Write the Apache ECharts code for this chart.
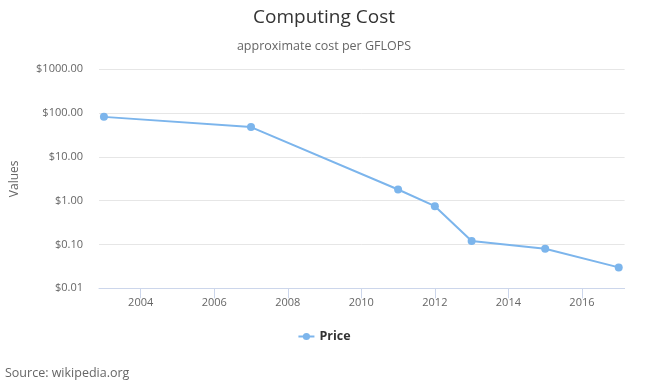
<!DOCTYPE html>
<html>
<head>
<meta charset="utf-8">
<script src="https://cdn.jsdelivr.net/npm/echarts@6/dist/echarts.min.js"></script>
<style>html,body{margin:0;padding:0;background:#fff}#c{width:648px;height:382px}</style>
</head>
<body>
<div id="c"></div>
<script>
const years = [2003, 2007, 2011, 2012, 2013, 2015, 2017];
const prices = [82, 48, 1.8, 0.75, 0.12, 0.08, 0.03];
const xTicks = [2004, 2006, 2008, 2010, 2012, 2014, 2016];
const yTicks = [0.01, 0.1, 1, 10, 100, 1000];

const FONT = '"Open Sans", "DejaVu Sans", sans-serif';
const chart = echarts.init(document.getElementById('c'), null, {renderer: 'canvas'});
chart.setOption({
  animation: false,
  textStyle: {fontFamily: FONT},
  title: [{
    text: 'Computing Cost',
    subtext: 'approximate cost per GFLOPS',
    left: 'center', top: 3,
    itemGap: 13,
    textStyle: {fontSize: 19, fontWeight: 'normal', color: '#333333', fontFamily: FONT},
    subtextStyle: {fontSize: 12.5, color: '#666666', fontFamily: FONT}
  }],
  legend: {
    data: ['Price'],
    left: 'center', top: 325,
    itemWidth: 16, itemHeight: 9,
    textStyle: {fontSize: 12.5, fontWeight: 'bold', color: '#333333', fontFamily: FONT}
  },
  graphic: [{
    type: 'text', left: 5, top: 367,
    style: {text: 'Source: wikipedia.org', fontSize: 12.5, fill: '#666666', fontFamily: FONT}
  }],
  grid: {left: 99, right: 23.4, top: 69.3, bottom: 93.7, containLabel: false},
  xAxis: {
    type: 'value',
    min: 2002.866, max: 2017.16,
    axisLine: {show: true, lineStyle: {color: '#ccd6eb', width: 1}},
    axisTick: {show: true, length: 10, lineStyle: {color: '#ccd6eb'}, customValues: xTicks},
    axisLabel: {customValues: xTicks, color: '#666666', fontSize: 11, margin: 9, fontFamily: FONT,
      formatter: v => String(Math.round(v))},
    splitLine: {show: false}
  },
  yAxis: {
    type: 'log', logBase: 10,
    min: 0.01, max: 1000,
    name: 'Values', nameLocation: 'middle', nameGap: 78, nameRotate: 90,
    nameTextStyle: {color: '#666666', fontSize: 12, fontFamily: FONT},
    axisLine: {show: false},
    axisTick: {show: false},
    axisLabel: {color: '#666666', fontSize: 11, margin: 16, fontFamily: FONT,
      formatter: v => '$' + Number(v).toFixed(2)},
    splitLine: {show: true, lineStyle: {color: '#e6e6e6', width: 1}}
  },
  series: [{
    name: 'Price',
    type: 'line',
    data: years.map((y, i) => [y, prices[i]]),
    symbol: 'circle', symbolSize: 8,
    lineStyle: {color: '#7cb5ec', width: 2},
    itemStyle: {color: '#7cb5ec'}
  }]
});
</script>
</body>
</html>
